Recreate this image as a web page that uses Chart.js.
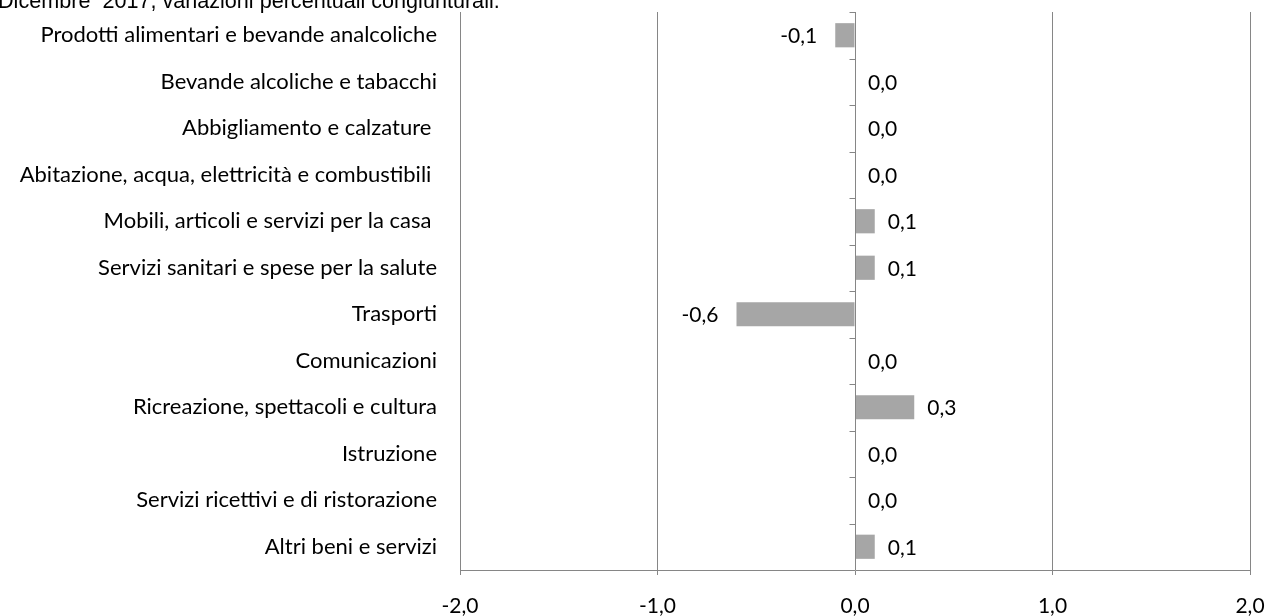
<!DOCTYPE html>
<html>
<head>
<meta charset="utf-8">
<script src="https://cdn.jsdelivr.net/npm/chart.js@4.4.1/dist/chart.umd.min.js"></script>
<style>
	html, body { margin: 0; padding: 0; background: #fff; }
	#wrap { position: relative; width: 1265px; height: 616px; overflow: hidden; }
	#title { position: absolute; left: -2px; top: -12px; font: 21.6px "Liberation Sans", Arial, sans-serif; color: #000; white-space: pre; }
</style>
</head>
<body>
<div id="wrap">
	<canvas id="barChart" width="1265" height="616"></canvas>
	<div id="title">Dicembre  2017, variazioni percentuali congiunturali.</div>
</div>
<script>
const categories = [
	'Prodotti alimentari e bevande analcoliche',
	'Bevande alcoliche e tabacchi',
	'Abbigliamento e calzature ',
	'Abitazione, acqua, elettricità e combustibili ',
	'Mobili, articoli e servizi per la casa ',
	'Servizi sanitari e spese per la salute',
	'Trasporti',
	'Comunicazioni',
	'Ricreazione, spettacoli e cultura',
	'Istruzione',
	'Servizi ricettivi e di ristorazione',
	'Altri beni e servizi'
];
const values = [-0.1, 0.0, 0.0, 0.0, 0.1, 0.1, -0.6, 0.0, 0.3, 0.0, 0.0, 0.1];
const xTicks = [-2, -1, 0, 1, 2];

const fontFamily = 'Lato, "Noto Sans", sans-serif';
const fontSize = 22;
const axisGray = '#868686';

const fmt = (v) => v.toFixed(1).replace('.', ',');

// zero axis line with category tick marks, plus value labels
const zeroAxis = {
	id: 'zeroAxis',
	afterDatasetsDraw(chart) {
		const { ctx, scales: { x }, chartArea: { top, bottom } } = chart;
		const x0 = Math.round(x.getPixelForValue(0)) + 0.5;
		ctx.save();
		ctx.strokeStyle = axisGray;
		ctx.lineWidth = 1;
		ctx.beginPath();
		ctx.moveTo(x0, top);
		ctx.lineTo(x0, bottom);
		const step = (bottom - top) / categories.length;
		for (let i = 0; i < categories.length; i++) {
			const yy = Math.round(top + i * step) + 0.5;
			ctx.moveTo(x0 - 6, yy);
			ctx.lineTo(x0, yy);
		}
		ctx.stroke();

		ctx.font = (fontSize - 1) + 'px ' + fontFamily;
		ctx.fillStyle = '#000';
		ctx.textBaseline = 'middle';
		const meta = chart.getDatasetMeta(0);
		meta.data.forEach((bar, i) => {
			const v = values[i];
			if (v < 0) {
				ctx.textAlign = 'right';
				ctx.fillText(fmt(v), bar.x - 18, bar.y + 1);
			} else {
				ctx.textAlign = 'left';
				ctx.fillText(fmt(v), bar.x + 13, bar.y + 1);
			}
		});
		ctx.restore();
	}
};

const ctx = document.getElementById('barChart').getContext('2d');
new Chart(ctx, {
	type: 'bar',
	data: {
		labels: categories,
		datasets: [{
			data: values,
			backgroundColor: '#a6a6a6',
			borderWidth: 0,
			barPercentage: 0.52,
			categoryPercentage: 1.0
		}]
	},
	options: {
		indexAxis: 'y',
		responsive: false,
		animation: false,
		layout: { padding: { top: 12, right: 15, bottom: 0, left: 0 } },
		plugins: {
			legend: { display: false },
			tooltip: { enabled: false }
		},
		scales: {
			x: {
				min: -2,
				max: 2,
				afterBuildTicks(scale) { scale.ticks = xTicks.map(v => ({ value: v })); },
				afterFit(scale) {
					scale.height = 46;
					scale.paddingLeft = 0;
					scale.paddingRight = 0;
				},
				grid: { color: axisGray, tickLength: 5, drawTicks: true },
				border: { color: axisGray },
				ticks: {
					padding: 19,
					color: '#000',
					font: { family: fontFamily, size: fontSize - 1 },
					callback: (v) => fmt(v)
				}
			},
			y: {
				afterFit(scale) {
					scale.width = 460;
					scale.paddingTop = 0;
					scale.paddingBottom = 0;
				},
				grid: { display: false },
				border: { display: false },
				ticks: {
					padding: 15,
					color: '#000',
					font: { family: fontFamily, size: fontSize }
				}
			}
		}
	},
	plugins: [zeroAxis]
});
</script>
</body>
</html>
